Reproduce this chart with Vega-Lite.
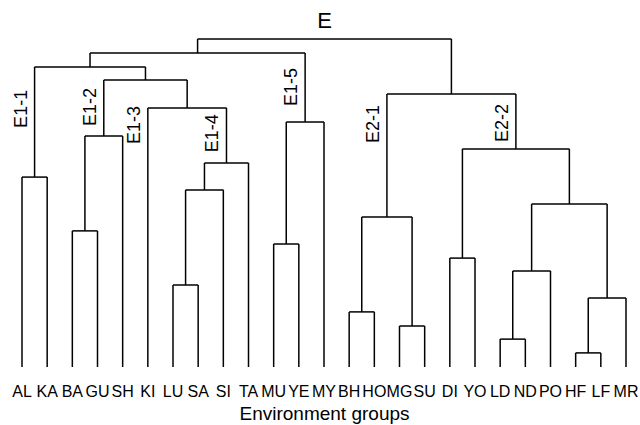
{
  "$schema": "https://vega.github.io/schema/vega-lite/v6.json",
  "autosize": "none",
  "width": 604,
  "height": 328,
  "padding": {"left": 22, "top": 39, "right": 14, "bottom": 58},
  "background": "white",
  "config": {"view": {"stroke": null}, "font": "Liberation Sans"},
  "datasets": {
    "merges": [
      {"node": "AL-KA", "lx": 0, "rx": 1, "lh": 0, "rh": 0, "h": 5.79},
      {"node": "BA-GU", "lx": 2, "rx": 3, "lh": 0, "rh": 0, "h": 4.15},
      {"node": "BAGU-SH", "lx": 2.5, "rx": 4, "lh": 4.15, "rh": 0, "h": 7.04},
      {"node": "LU-SA", "lx": 6, "rx": 7, "lh": 0, "rh": 0, "h": 2.5},
      {"node": "LUSA-SI", "lx": 6.5, "rx": 8, "lh": 2.5, "rh": 0, "h": 5.4},
      {"node": "E1-4", "lx": 7.25, "rx": 9, "lh": 5.4, "rh": 0, "h": 6.22},
      {"node": "E1-3", "lx": 5, "rx": 8.125, "lh": 0, "rh": 6.22, "h": 7.9},
      {"node": "E1-2+E1-3", "lx": 3.25, "rx": 6.5625, "lh": 7.04, "rh": 7.9, "h": 8.75},
      {"node": "E1-1+", "lx": 0.5, "rx": 4.906, "lh": 5.79, "rh": 8.75, "h": 9.15},
      {"node": "MU-YE", "lx": 10, "rx": 11, "lh": 0, "rh": 0, "h": 3.75},
      {"node": "E1-5", "lx": 10.5, "rx": 12, "lh": 3.75, "rh": 0, "h": 7.47},
      {"node": "E1", "lx": 2.703, "rx": 11.25, "lh": 9.15, "rh": 7.47, "h": 9.57},
      {"node": "BH-HO", "lx": 13, "rx": 14, "lh": 0, "rh": 0, "h": 1.68},
      {"node": "MG-SU", "lx": 15, "rx": 16, "lh": 0, "rh": 0, "h": 1.25},
      {"node": "E2-1", "lx": 13.5, "rx": 15.5, "lh": 1.68, "rh": 1.25, "h": 4.57},
      {"node": "DI-YO", "lx": 17, "rx": 18, "lh": 0, "rh": 0, "h": 3.32},
      {"node": "LD-ND", "lx": 19, "rx": 20, "lh": 0, "rh": 0, "h": 0.85},
      {"node": "LDND-PO", "lx": 19.5, "rx": 21, "lh": 0.85, "rh": 0, "h": 2.93},
      {"node": "HF-LF", "lx": 22, "rx": 23, "lh": 0, "rh": 0, "h": 0.43},
      {"node": "HFLF-MR", "lx": 22.5, "rx": 24, "lh": 0.43, "rh": 0, "h": 2.1},
      {"node": "LDNDPO-HFLFMR", "lx": 20.25, "rx": 23.25, "lh": 2.93, "rh": 2.1, "h": 4.97},
      {"node": "E2-2", "lx": 17.5, "rx": 21.75, "lh": 3.32, "rh": 4.97, "h": 6.65},
      {"node": "E2", "lx": 14.5, "rx": 19.625, "lh": 4.57, "rh": 6.65, "h": 8.32},
      {"node": "E", "lx": 6.977, "rx": 17.0625, "lh": 9.57, "rh": 8.32, "h": 10}
    ],
    "leaves": [
      {"leaf": "AL", "pos": 0}, {"leaf": "KA", "pos": 1}, {"leaf": "BA", "pos": 2},
      {"leaf": "GU", "pos": 3}, {"leaf": "SH", "pos": 4}, {"leaf": "KI", "pos": 5},
      {"leaf": "LU", "pos": 6}, {"leaf": "SA", "pos": 7}, {"leaf": "SI", "pos": 8},
      {"leaf": "TA", "pos": 9}, {"leaf": "MU", "pos": 10}, {"leaf": "YE", "pos": 11},
      {"leaf": "MY", "pos": 12}, {"leaf": "BH", "pos": 13}, {"leaf": "HO", "pos": 14},
      {"leaf": "MG", "pos": 15}, {"leaf": "SU", "pos": 16}, {"leaf": "DI", "pos": 17},
      {"leaf": "YO", "pos": 18}, {"leaf": "LD", "pos": 19}, {"leaf": "ND", "pos": 20},
      {"leaf": "PO", "pos": 21}, {"leaf": "HF", "pos": 22}, {"leaf": "LF", "pos": 23},
      {"leaf": "MR", "pos": 24}
    ],
    "labels": [
      {"label": "E", "level": "root", "x": 12.02, "h": 10},
      {"label": "E1-1", "level": "sub", "x": 0.5, "h": 7.87},
      {"label": "E1-2", "level": "sub", "x": 3.25, "h": 7.93},
      {"label": "E1-3", "level": "sub", "x": 5, "h": 7.38},
      {"label": "E1-4", "level": "sub", "x": 8.125, "h": 7.13},
      {"label": "E1-5", "level": "sub", "x": 11.25, "h": 8.54},
      {"label": "E2-1", "level": "sub", "x": 14.5, "h": 7.41},
      {"label": "E2-2", "level": "sub", "x": 19.625, "h": 7.44}
    ]
  },
  "layer": [
    {
      "data": {"name": "merges"},
      "mark": {"type": "rule", "color": "black", "strokeWidth": 1.5},
      "encoding": {
        "x": {"field": "lx", "type": "quantitative",
              "scale": {"domain": [0, 24], "nice": false, "zero": false},
              "axis": {"labels": false, "domain": false, "ticks": false, "grid": false,
                       "title": "Environment groups", "titleFont": "Liberation Sans", "titleFontSize": 19,
                       "titleFontWeight": "normal", "titleColor": "black", "titlePadding": 37}},
        "x2": {"field": "rx"},
        "y": {"field": "h", "type": "quantitative", "scale": {"domain": [0, 10], "nice": false}, "axis": null}
      }
    },
    {
      "data": {"name": "merges"},
      "mark": {"type": "rule", "color": "black", "strokeWidth": 1.5},
      "encoding": {
        "x": {"field": "lx", "type": "quantitative"},
        "y": {"field": "lh", "type": "quantitative"},
        "y2": {"field": "h"}
      }
    },
    {
      "data": {"name": "merges"},
      "mark": {"type": "rule", "color": "black", "strokeWidth": 1.5},
      "encoding": {
        "x": {"field": "rx", "type": "quantitative"},
        "y": {"field": "rh", "type": "quantitative"},
        "y2": {"field": "h"}
      }
    },
    {
      "data": {"name": "leaves"},
      "mark": {"type": "text", "align": "center", "baseline": "alphabetic", "fontSize": 16, "color": "black", "dy": 30},
      "encoding": {
        "x": {"field": "pos", "type": "quantitative"},
        "y": {"datum": 0, "type": "quantitative"},
        "text": {"field": "leaf"}
      }
    },
    {
      "data": {"name": "labels"},
      "transform": [{"filter": "datum.level === 'sub'"}],
      "mark": {"type": "text", "angle": 270, "align": "center", "baseline": "bottom", "fontSize": 18, "color": "black", "dy": -4},
      "encoding": {
        "x": {"field": "x", "type": "quantitative"},
        "y": {"field": "h", "type": "quantitative"},
        "text": {"field": "label"}
      }
    },
    {
      "data": {"name": "labels"},
      "transform": [{"filter": "datum.level === 'root'"}],
      "mark": {"type": "text", "align": "center", "baseline": "bottom", "fontSize": 22, "color": "black", "dy": -6},
      "encoding": {
        "x": {"field": "x", "type": "quantitative"},
        "y": {"field": "h", "type": "quantitative"},
        "text": {"field": "label"}
      }
    }
  ]
}
